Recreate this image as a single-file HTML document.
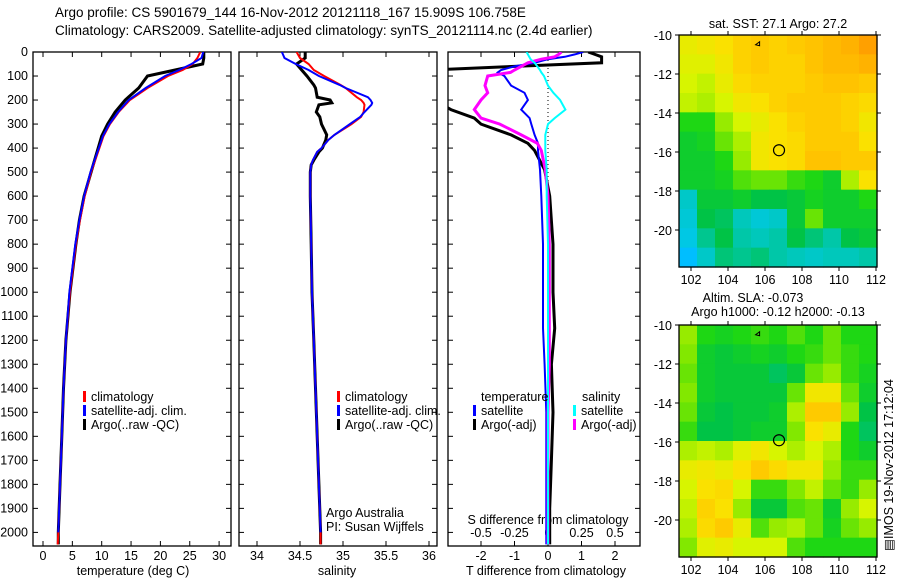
<!DOCTYPE html>
<html><head><meta charset="utf-8"><style>
html,body{margin:0;padding:0;background:#fff;width:900px;height:580px;overflow:hidden}
svg{display:block;font-family:"Liberation Sans",Arial,sans-serif}
text{font-size:12.5px;fill:#000}
</style></head><body>
<svg id="fig" width="900" height="580" viewBox="0 0 900 580">
<text x="55" y="17" style="font-size:13.5px">Argo profile: CS 5901679_144 16-Nov-2012 20121118_167 15.909S 106.758E</text>
<text x="55" y="35" style="font-size:13.5px">Climatology: CARS2009. Satellite-adjusted climatology: synTS_20121114.nc (2.4d earlier)</text>
<g id="g"></g>
</svg>
<script>
// ---------- data ----------
const depthTicks=[0,100,200,300,400,500,600,700,800,900,1000,1100,1200,1300,1400,1500,1600,1700,1800,1900,2000];
const tempTicks=[0,5,10,15,20,25,30];
const salTicks=[34,34.5,35,35.5,36];
const dTTicks=[-2,-1,0,1,2];
const dSTicks=[-0.5,-0.25,0,0.25,0.5];
const dSTickLabels=["-0.5","-0.25","0","0.25","0.5"];

const depthT=[0,25,50,75,100,150,200,250,300,350,400,500,600,700,800,1000,1200,1400,1600,1800,2000,2050];
const tempClim=[26.8,26.3,25.5,23.8,21.3,17.8,14.8,12.9,11.4,10.3,9.6,8.2,7.1,6.3,5.6,4.6,3.9,3.5,3.2,2.9,2.6,2.5];
const tempSat=[27.3,27.0,25.3,23.2,20.8,17.5,14.6,12.8,11.3,10.2,9.5,8.1,7.0,6.2,5.5,4.5,3.9,3.5,3.2,2.9,2.6,2.6];
const tempArgo=[27.4,27.4,27.2,22.5,17.8,16.3,14.0,12.3,11.0,10.0,9.4,8.2,7.0,6.2,5.6,4.6,3.9,3.5,3.2,2.9,2.6,2.6];

const depthS=[0,25,50,75,100,137,150,188,200,212,220,250,270,300,345,366,400,416,450,470,500,550,600,800,1000,1200,1400,1600,1800,2000,2050];
const salClim=[34.46,34.5,34.6,34.66,34.78,34.97,35.03,35.16,35.21,35.24,35.25,35.24,35.21,35.1,34.9,34.83,34.75,34.7,34.65,34.63,34.62,34.62,34.62,34.63,34.64,34.66,34.68,34.7,34.72,34.74,34.74];
const salSat=[34.29,34.32,34.45,34.6,34.72,34.96,35.03,35.29,35.32,35.34,35.33,35.25,35.2,35.08,34.9,34.83,34.75,34.7,34.65,34.63,34.62,34.62,34.62,34.63,34.64,34.66,34.68,34.7,34.72,34.74,34.74];
const salArgo=[34.56,34.56,34.46,34.52,34.58,34.66,34.68,34.7,34.85,34.87,34.72,34.69,34.73,34.75,34.81,34.8,34.76,34.72,34.66,34.63,34.62,34.62,34.62,34.63,34.64,34.66,34.68,34.7,34.72,34.74,34.74];

const depthD=[0,10,20,30,45,60,75,85,100,140,170,200,240,275,300,345,380,410,490,600,800,1000,1150,1300,1500,1700,1900,2050];
const dTSat=[1.05,0.8,0.5,0.0,-0.4,-1.0,-1.4,-1.5,-1.3,-1.1,-0.7,-0.6,-0.8,-0.55,-0.5,-0.4,-0.3,-0.3,-0.24,-0.2,-0.15,-0.15,-0.15,-0.1,-0.05,-0.05,-0.05,-0.05];
const dTArgo=[1.2,1.4,1.6,1.6,1.6,-1.0,-3.5,-3.6,-3.6,-3.6,-3.6,-3.4,-2.9,-2.2,-2.0,-1.1,-0.6,-0.4,-0.1,0.05,0.15,0.15,0.2,0.1,0.15,0.1,0.05,0.05];
const dSSat=[-0.16,-0.15,-0.14,-0.13,-0.1,-0.08,-0.06,-0.05,-0.03,0.0,0.04,0.09,0.13,0.05,0.0,-0.02,-0.02,-0.02,-0.01,-0.01,0,0,0,0,0,0,0,0];
const dSArgo=[0.1,0.08,0.05,-0.05,-0.15,-0.2,-0.25,-0.28,-0.45,-0.47,-0.45,-0.5,-0.55,-0.5,-0.36,-0.2,-0.08,-0.05,-0.02,0,0.01,0.01,0.01,0.01,0,0,0,0];

const lonTicks=[102,104,106,108,110,112];
const latTicks=[-10,-12,-14,-16,-18,-20];
const sstGrid=[
[.70,.72,.74,.78,.80,.78,.80,.82,.84,.86,.90],
[.68,.68,.72,.78,.80,.78,.78,.82,.84,.84,.86],
[.66,.64,.70,.76,.78,.78,.78,.80,.82,.82,.80],
[.64,.62,.66,.72,.74,.78,.80,.80,.80,.78,.76],
[.50,.50,.60,.66,.70,.74,.78,.80,.80,.78,.72],
[.46,.48,.56,.62,.72,.74,.76,.80,.80,.80,.74],
[.46,.46,.50,.60,.72,.74,.76,.82,.82,.80,.80],
[.46,.46,.48,.54,.56,.56,.52,.50,.46,.62,.74],
[.30,.44,.44,.46,.42,.42,.44,.48,.46,.46,.50],
[.28,.42,.40,.32,.28,.30,.44,.56,.46,.46,.46],
[.26,.36,.42,.34,.32,.34,.42,.38,.34,.42,.44],
[.20,.30,.38,.36,.38,.34,.32,.30,.32,.32,.34]];
const slaGrid=[
[.60,.50,.48,.50,.52,.50,.54,.50,.56,.50,.50],
[.58,.46,.44,.46,.48,.46,.50,.52,.56,.52,.50],
[.56,.46,.44,.44,.44,.40,.44,.56,.60,.52,.48],
[.58,.46,.44,.44,.44,.44,.56,.72,.72,.56,.46],
[.56,.44,.42,.44,.44,.46,.62,.80,.80,.60,.42],
[.52,.42,.42,.44,.46,.46,.58,.74,.70,.50,.40],
[.62,.64,.62,.68,.72,.66,.62,.66,.62,.50,.46],
[.70,.72,.70,.74,.80,.76,.72,.72,.60,.52,.52],
[.66,.74,.76,.66,.52,.52,.58,.64,.56,.52,.60],
[.64,.78,.74,.60,.44,.44,.54,.56,.46,.60,.66],
[.62,.76,.80,.70,.54,.60,.62,.56,.48,.56,.60],
[.58,.68,.70,.66,.66,.66,.54,.50,.50,.50,.50]];

// ---------- helpers ----------
const NS="http://www.w3.org/2000/svg";
const G=document.getElementById('g');
function mk(tag,attrs,parent){const e=document.createElementNS(NS,tag);for(const k in attrs)e.setAttribute(k,attrs[k]);(parent||G).appendChild(e);return e;}
function txt(x,y,s,anchor,parent){const e=mk('text',{x:x,y:y,'text-anchor':anchor||'start'},parent);e.textContent=s;return e;}

const TOP=52,BOT=546;
const yD=d=>TOP+d*0.2402;
const xT=t=>43+t*5.87;
const xS=s=>257+(s-34)*86;
const xDT=t=>548+t*33.5;
const xDS=s=>548+s*134;

function panel(x0,x1,name){
  const g=mk('g',{});
  
  
  const cid='clip-'+name;
  const cp=mk('clipPath',{id:cid},g);mk('rect',{x:x0,y:TOP,width:x1-x0,height:BOT-TOP},cp);
  const r=mk('rect',{x:x0,y:TOP,width:x1-x0,height:BOT-TOP,fill:'none',stroke:'#000','stroke-width':1.3},g);
  
  
  depthTicks.forEach(d=>{mk('line',{x1:x0,x2:x0+5,y1:yD(d),y2:yD(d),stroke:'#000'},g);mk('line',{x1:x1-5,x2:x1,y1:yD(d),y2:yD(d),stroke:'#000'},g);});
  return {g:g,clip:'url(#'+cid+')'};
}
function line(p,ys,xs,yf,xf,color,w,name){
  const pts=xs.map((v,i)=>xf(v).toFixed(1)+','+yf(ys[i]).toFixed(1)).join(' ');
  const e=mk('polyline',{points:pts,fill:'none',stroke:color,'stroke-width':w,'clip-path':p.clip},p.g);
  
  
}
function legendItem(p,x,y,color,label,name){
  const m=mk('rect',{x:x,y:y-10,width:3,height:11,fill:color},p.g);
  
  
  const t=txt(x+8,y,label,'start',p.g);
  
  
}

// ---------- panel 1: temperature ----------
const p1=panel(33,231,'temperature-panel');
depthTicks.forEach(d=>{const t=txt(28,yD(d)+4,String(d),'end',p1.g);});
tempTicks.forEach(v=>{mk('line',{x1:xT(v),x2:xT(v),y1:BOT,y2:BOT-5,stroke:'#000'},p1.g);mk('line',{x1:xT(v),x2:xT(v),y1:TOP,y2:TOP+5,stroke:'#000'},p1.g);const t=txt(xT(v),560,String(v),'middle',p1.g);});
{const t=txt(133,575,'temperature (deg C)','middle',p1.g);}
line(p1,depthT,tempArgo,yD,xT,'#000',3,'temperature-argo-line');
line(p1,depthT,tempClim,yD,xT,'#f00',2,'temperature-climatology-line');
line(p1,depthT.slice(0,21),tempSat.slice(0,21),yD,xT,'#00f',2,'temperature-satellite-line');
legendItem(p1,83,401,'#f00','climatology','legend-climatology');
legendItem(p1,83,415,'#00f','satellite-adj. clim.','legend-satellite');
legendItem(p1,83,429,'#000','Argo(..raw -QC)','legend-argo');

// ---------- panel 2: salinity ----------
const p2=panel(239,437,'salinity-panel');
salTicks.forEach(v=>{mk('line',{x1:xS(v),x2:xS(v),y1:BOT,y2:BOT-5,stroke:'#000'},p2.g);mk('line',{x1:xS(v),x2:xS(v),y1:TOP,y2:TOP+5,stroke:'#000'},p2.g);const t=txt(xS(v),560,String(v),'middle',p2.g);});
{const t=txt(337,575,'salinity','middle',p2.g);}
line(p2,depthS,salArgo,yD,xS,'#000',3,'salinity-argo-line');
line(p2,depthS,salClim,yD,xS,'#f00',2,'salinity-climatology-line');
line(p2,depthS.slice(0,30),salSat.slice(0,30),yD,xS,'#00f',2,'salinity-satellite-line');
legendItem(p2,337,401,'#f00','climatology','legend-climatology-s');
legendItem(p2,337,415,'#00f','satellite-adj. clim.','legend-satellite-s');
legendItem(p2,337,429,'#000','Argo(..raw -QC)','legend-argo-s');
{const t=txt(326,517,'Argo Australia','start',p2.g);
 const t2=txt(326,531,'PI: Susan Wijffels','start',p2.g);}

// ---------- panel 3: differences ----------
const p3=panel(448,640,'difference-panel');
mk('line',{x1:548,x2:548,y1:TOP,y2:BOT,stroke:'#000','stroke-dasharray':'1,3'},p3.g);
dTTicks.forEach(v=>{mk('line',{x1:xDT(v),x2:xDT(v),y1:BOT,y2:BOT-5,stroke:'#000'},p3.g);mk('line',{x1:xDT(v),x2:xDT(v),y1:TOP,y2:TOP+5,stroke:'#000'},p3.g);const t=txt(xDT(v),560,String(v),'middle',p3.g);});
dSTicks.forEach((v,i)=>{const t=txt(xDS(v),537,dSTickLabels[i],'middle',p3.g);});
{const t=txt(548,524,'S difference from climatology','middle',p3.g);
 const t2=txt(546,575,'T difference from climatology','middle',p3.g);}
line(p3,depthD,dTArgo,yD,xDT,'#000',3,'dT-argo-line');
line(p3,depthD,dTSat,yD,xDT,'#00f',2,'dT-satellite-line');
line(p3,depthD,dSArgo,yD,xDS,'#f0f',3,'dS-argo-line');
line(p3,depthD,dSSat,yD,xDS,'#0ff',2,'dS-satellite-line');
{const t=txt(481,401,'temperature','start',p3.g);
 const t2=txt(582,401,'salinity','start',p3.g);}
legendItem(p3,473,415,'#00f','satellite','legend-dT-satellite');
legendItem(p3,473,429,'#000','Argo(-adj)','legend-dT-argo');
legendItem(p3,573,415,'#0ff','satellite','legend-dS-satellite');
legendItem(p3,573,429,'#f0f','Argo(-adj)','legend-dS-argo');

// ---------- maps ----------
function cmap(v){
  const stops=[[0,[0,90,255]],[0.22,[0,200,255]],[0.33,[0,200,180]],[0.42,[0,195,70]],[0.5,[30,215,20]],[0.58,[130,232,0]],[0.66,[215,245,0]],[0.74,[250,225,0]],[0.82,[255,195,0]],[0.9,[255,160,0]],[1,[255,100,0]]];
  for(let i=1;i<stops.length;i++){if(v<=stops[i][0]){const a=stops[i-1],b=stops[i],f=(v-a[0])/(b[0]-a[0]);return 'rgb('+a[1].map((c,k)=>Math.round(c+(b[1][k]-c)*f)).join(',')+')';}}
  return 'rgb(255,100,0)';
}
function map(y0,grid,name){
  const X0=679,X1=877,Y1=y0+232;
  const lonX=l=>691+(l-102)*18.5;
  const latY=l=>y0+(-10-l)*19.5;
  const g=mk('g',{});
  
  
  const rows=grid.length,cols=grid[0].length,cw=(X1-X0)/cols,ch=(Y1-y0)/rows;
  grid.forEach((row,r)=>row.forEach((v,c)=>{
    const e=mk('rect',{x:(X0+c*cw).toFixed(2),y:(y0+r*ch).toFixed(2),width:(cw+0.6).toFixed(2),height:(ch+0.6).toFixed(2),fill:cmap(v)},g);
    
    
  }));
  mk('rect',{x:X0,y:y0,width:X1-X0,height:Y1-y0,fill:'none',stroke:'#000','stroke-width':1.3},g);
  lonTicks.forEach(l=>{mk('line',{x1:lonX(l),x2:lonX(l),y1:Y1,y2:Y1+4,stroke:'#000'},g);mk('line',{x1:lonX(l),x2:lonX(l),y1:y0,y2:y0-4,stroke:'#000'},g);const t=txt(lonX(l),Y1+17,String(l),'middle',g);});
  latTicks.forEach(l=>{mk('line',{x1:X0,x2:X0-4,y1:latY(l),y2:latY(l),stroke:'#000'},g);mk('line',{x1:X1,x2:X1+4,y1:latY(l),y2:latY(l),stroke:'#000'},g);const t=txt(X0-7,latY(l)+5,String(l),'end',g);});
  const c=mk('circle',{cx:lonX(106.758),cy:latY(-15.909),r:5.5,fill:'none',stroke:'#000','stroke-width':1.2},g);
  
  
  mk('path',{d:'M'+(lonX(105.6)-2)+' '+(latY(-10.5))+' l4 -3 l0 4 z',fill:'none',stroke:'#000','stroke-width':1},g);
}
{const t=txt(778,28,'sat. SST: 27.1  Argo: 27.2','middle');}
map(35,sstGrid,'sst-map');
{const t=txt(753,302,'Altim. SLA: -0.073','middle');
 const t2=txt(778,316,'Argo h1000: -0.12 h2000: -0.13','middle');}
map(325,slaGrid,'sla-map');
{const t=txt(0,0,'\u25A4IMOS 19-Nov-2012 17:12:04','middle');t.setAttribute('transform','translate(893,465) rotate(-90)');}
</script>
</body></html>
